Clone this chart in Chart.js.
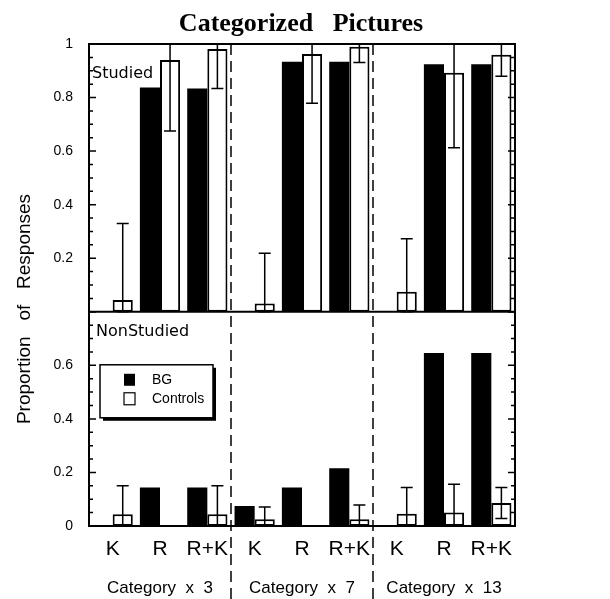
<!DOCTYPE html>
<html>
<head>
<meta charset="utf-8">
<script src="https://cdn.jsdelivr.net/npm/chart.js@4.4.1/dist/chart.umd.min.js"></script>
<style>
  html, body { margin: 0; padding: 0; background: #fff; }
  #wrap { width: 610px; height: 599px; position: relative; }
</style>
</head>
<body>
<div id="wrap"><canvas id="chart" width="610" height="599"></canvas></div>
<script>
const responseLabels = ['K', 'R', 'R+K', 'K', 'R', 'R+K', 'K', 'R', 'R+K'];
const categoryLabels = ['', 'Category  x  3', '', '', 'Category  x  7', '', '', 'Category  x  13', ''];

// Studied items (top panel)
const studiedBG       = [0, 0.838, 0.834, 0, 0.934, 0.934, 0, 0.924, 0.924];
const studiedControls = [0.044, 0.940, 0.981, 0.031, 0.963, 0.990, 0.075, 0.893, 0.960];
const studiedErr      = [0.286, 0.265, 0.147, 0.188, 0.184, 0.059, 0.198, 0.280, 0.080];

// NonStudied items (bottom panel)
const nonStudiedBG       = [0, 0.144, 0.144, 0.075, 0.144, 0.216, 0, 0.646, 0.646];
const nonStudiedControls = [0.044, 0, 0.044, 0.025, 0, 0.025, 0.046, 0.050, 0.086];
const nonStudiedErr      = [0.106, 0, 0.106, 0.046, 0, 0.053, 0.098, 0.106, 0.058];

const topTicks = [0.2, 0.4, 0.6, 0.8, 1];
const bottomTicks = [0, 0.2, 0.4, 0.6];
const sectionBreaks = [2.5, 5.5];

const SANS = '"Liberation Sans", Arial, sans-serif';

// error bars, frame, inward ticks, dashed separators, legend and labels
const decor = {
  id: 'decor',
  afterDatasetsDraw(chart) {
    const { ctx, chartArea: a, scales } = chart;
    const yT = scales.yTop, yB = scales.yBottom, x = scales.x;
    ctx.save();
    ctx.strokeStyle = '#000';
    ctx.fillStyle = '#000';

    const drawErr = (dsIndex, errs, axis) => {
      const meta = chart.getDatasetMeta(dsIndex);
      const vals = chart.data.datasets[dsIndex].data;
      ctx.lineWidth = 1.5;
      errs.forEach((e, i) => {
        if (!e) return;
        const cx = meta.data[i].x;
        const lo = axis.getPixelForValue(Math.max(vals[i] - e, axis.min));
        const hi = axis.getPixelForValue(Math.min(vals[i] + e, axis.max));
        ctx.beginPath();
        ctx.moveTo(cx, lo); ctx.lineTo(cx, hi);
        ctx.moveTo(cx - 6, hi); ctx.lineTo(cx + 6, hi);
        ctx.moveTo(cx - 6, lo); ctx.lineTo(cx + 6, lo);
        ctx.stroke();
      });
    };
    drawErr(1, studiedErr, yT);
    drawErr(3, nonStudiedErr, yB);

    // frame + panel separator
    ctx.lineWidth = 2;
    ctx.strokeRect(a.left, a.top, a.right - a.left, a.bottom - a.top);
    ctx.beginPath();
    ctx.moveTo(a.left, yB.top); ctx.lineTo(a.right, yB.top);
    ctx.stroke();

    // inward ticks on both sides, minor every 0.05
    ctx.lineWidth = 1.5;
    [yT, yB].forEach(axis => {
      for (let k = 0; k * 0.05 <= axis.max + 1e-9; k++) {
        const py = axis.getPixelForValue(k * 0.05);
        const len = k % 4 === 0 ? 7 : 4;
        ctx.beginPath();
        ctx.moveTo(a.left, py); ctx.lineTo(a.left + len, py);
        ctx.moveTo(a.right, py); ctx.lineTo(a.right - len, py);
        ctx.stroke();
      }
    });

    // dashed section separators
    ctx.setLineDash([11, 6]);
    ctx.lineWidth = 1.5;
    sectionBreaks.forEach(b => {
      const px = x.getPixelForValue(b);
      ctx.beginPath();
      ctx.moveTo(px, a.top); ctx.lineTo(px, chart.height);
      ctx.stroke();
    });
    ctx.setLineDash([]);

    // panel labels
    ctx.font = '16px "DejaVu Sans", sans-serif';
    ctx.textBaseline = 'middle';
    ctx.textAlign = 'left';
    ctx.fillText('Studied', a.left + 3, a.top + 30);
    ctx.fillText('NonStudied', a.left + 7, yB.top + 20);

    // legend box with drop shadow
    const lx = a.left + 11, ly = yB.top + 53, lw = 113, lh = 53;
    ctx.fillRect(lx + 3, ly + 3, lw, lh);
    ctx.fillStyle = '#fff';
    ctx.fillRect(lx, ly, lw, lh);
    ctx.lineWidth = 1.5;
    ctx.strokeRect(lx, ly, lw, lh);
    ctx.fillStyle = '#000';
    ctx.fillRect(lx + 24, ly + 9, 11, 12);
    ctx.fillStyle = '#fff';
    ctx.fillRect(lx + 24, ly + 28, 11, 12);
    ctx.lineWidth = 1.2;
    ctx.strokeRect(lx + 24, ly + 28, 11, 12);
    ctx.fillStyle = '#000';
    ctx.font = '14px ' + SANS;
    ctx.fillText('BG', lx + 52, ly + 15);
    ctx.fillText('Controls', lx + 52, ly + 34);

    // y axis title
    ctx.save();
    ctx.translate(25, (a.top + a.bottom) / 2 + 24);
    ctx.rotate(-Math.PI / 2);
    ctx.textAlign = 'center';
    ctx.font = '19px ' + SANS;
    ctx.fillText('Proportion   of   Responses', 0, 0);
    ctx.restore();

    // main title
    ctx.textAlign = 'center';
    ctx.textBaseline = 'alphabetic';
    ctx.font = 'bold 26px "Liberation Serif", serif';
    ctx.fillText('Categorized   Pictures', 301, 31);
    ctx.restore();
  }
};

const hideAxisLine = { display: false, drawTicks: false };

new Chart(document.getElementById('chart'), {
  type: 'bar',
  data: {
    labels: responseLabels,
    datasets: [
      { label: 'BG', data: studiedBG, xAxisID: 'x', yAxisID: 'yTop', stack: 'bg',
        backgroundColor: '#000', borderWidth: 0 },
      { label: 'Controls', data: studiedControls, xAxisID: 'x', yAxisID: 'yTop', stack: 'ctrl',
        backgroundColor: '#fff', borderColor: '#000', borderWidth: 2, borderSkipped: false },
      { label: 'BG', data: nonStudiedBG, xAxisID: 'x', yAxisID: 'yBottom', stack: 'bg',
        backgroundColor: '#000', borderWidth: 0 },
      { label: 'Controls', data: nonStudiedControls, xAxisID: 'x', yAxisID: 'yBottom', stack: 'ctrl',
        backgroundColor: '#fff', borderColor: '#000', borderWidth: 2, borderSkipped: false }
    ]
  },
  options: {
    responsive: false,
    animation: false,
    devicePixelRatio: 1,
    layout: { padding: { left: 40, right: 95, top: 44, bottom: 0 } },
    datasets: { bar: { barPercentage: 1, categoryPercentage: 0.85 } },
    plugins: { legend: { display: false }, tooltip: { enabled: false } },
    scales: {
      x: {
        type: 'category', position: 'bottom', offset: true,
        grid: hideAxisLine, border: { display: false },
        ticks: { color: '#000', font: { family: SANS, size: 21 }, padding: 11, maxRotation: 0, autoSkip: false },
        afterFit: s => { s.height = 46; s.paddingLeft = 0; s.paddingRight = 0; }
      },
      xCat: {
        type: 'category', position: 'bottom', offset: true, labels: categoryLabels,
        grid: hideAxisLine, border: { display: false },
        ticks: { color: '#000', font: { family: SANS, size: 17 }, padding: 6, maxRotation: 0, autoSkip: false },
        afterFit: s => { s.height = 27; s.paddingLeft = 0; s.paddingRight = 0; }
      },
      yBottom: {
        type: 'linear', position: 'left', stack: 'panels', stackWeight: 0.8,
        min: 0, max: 0.8,
        afterBuildTicks: s => { s.ticks = bottomTicks.map(v => ({ value: v })); },
        grid: hideAxisLine, border: { display: false },
        ticks: { color: '#000', font: { family: SANS, size: 14 }, padding: 16, callback: v => String(v) },
        afterFit: s => { s.width = 49; s.paddingTop = 0; s.paddingBottom = 0; }
      },
      yTop: {
        type: 'linear', position: 'left', stack: 'panels', stackWeight: 1,
        min: 0, max: 1,
        afterBuildTicks: s => { s.ticks = topTicks.map(v => ({ value: v })); },
        grid: hideAxisLine, border: { display: false },
        ticks: { color: '#000', font: { family: SANS, size: 14 }, padding: 16, callback: v => String(v) },
        afterFit: s => { s.width = 49; s.paddingTop = 0; s.paddingBottom = 0; }
      }
    }
  },
  plugins: [decor]
});
</script>
</body>
</html>
